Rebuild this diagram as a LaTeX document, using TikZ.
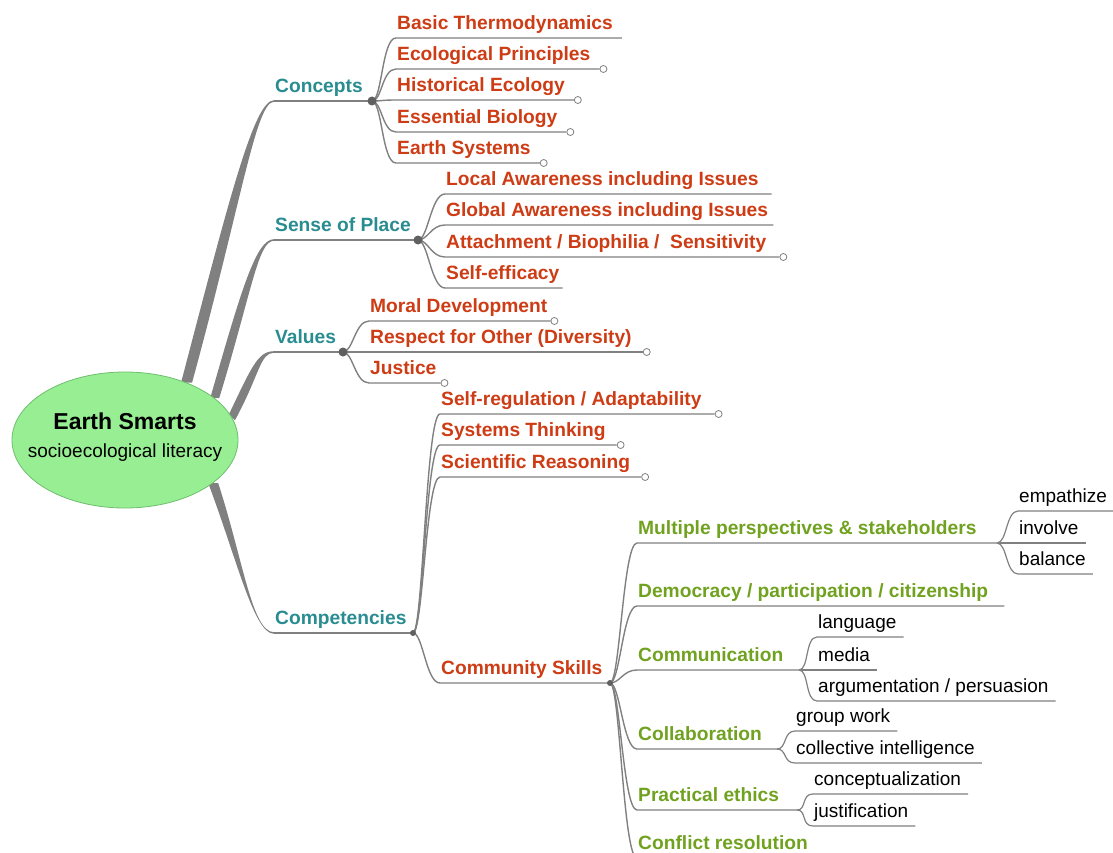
\documentclass[tikz,border=0pt]{standalone}
\usepackage{fontspec}
\setmainfont{Liberation Sans}
\usetikzlibrary{positioning, shapes.geometric, calc, backgrounds}
\definecolor{mmteal}{RGB}{40,140,145}
\definecolor{mmred}{RGB}{205,60,20}
\definecolor{mmgreen}{RGB}{112,162,32}
\definecolor{mmgray}{RGB}{128,128,128}
\definecolor{hubfill}{RGB}{152,238,146}
\definecolor{hubline}{RGB}{110,190,110}

\begin{document}
\begin{tikzpicture}[
    x=1pt, y=-1pt,
    hub/.style={ellipse, draw=hubline, fill=hubfill, line width=0.8pt, minimum width=226pt, minimum height=136pt, inner sep=0pt},
    hubtext/.style={align=center, font=\fontsize{19}{28}\selectfont},
    txt/.style={anchor=south west, inner xsep=1pt, inner ysep=8.5pt, text depth=0pt},
    main/.style={txt, text=mmteal, font=\fontsize{19.2}{22}\selectfont\bfseries},
    sub/.style={txt, text=mmred, font=\fontsize{19.2}{22}\selectfont\bfseries},
    skill/.style={txt, text=mmgreen, font=\fontsize{19.2}{22}\selectfont\bfseries},
    item/.style={txt, text=black, font=\fontsize{19}{22}\selectfont},
    link/.style={draw=mmgray, line width=1.4pt},
    twig/.style={draw=mmgray, line width=1.2pt},
    trunk/.style={fill=mmgray},
    knot/.style={fill=mmgray!75!black},
    tip/.style={circle, draw=mmgray, fill=white, line width=0.8pt, inner sep=0pt, minimum size=7pt, anchor=west}
]
\useasboundingbox (0,0) rectangle (1113,853);

% centre
\node[hub] (hub) at (125,440) {};
\node[hubtext] (hubname) at (125,437) {{\fontsize{23}{28}\selectfont\bfseries Earth Smarts}\\socioecological literacy};

% first level
\node[main] (con) at (274,101) {Concepts};
\node[main] (sop) at (274,240) {Sense of Place};
\node[main] (val) at (274,352) {Values};
\node[main] (com) at (274,633) {Competencies};
\coordinate (conJ) at (372,101);
\coordinate (sopJ) at (418,240);
\coordinate (valJ) at (343,352);
\coordinate (comJ) at (413,633);

\begin{scope}[on background layer]
    \fill[trunk] ([xshift=-5.5pt]hub.43) .. controls +(48,-183) and +(-20,0) .. ([yshift=0.8pt]con.south west)
        -- ([yshift=-0.8pt]con.south west) .. controls +(-18,0) and +(50,-183) .. ([xshift=5.5pt]hub.43) -- cycle;
    \fill[trunk] ([xshift=-4.5pt]hub.25) .. controls +(31,-108) and +(-18,0) .. ([yshift=0.8pt]sop.south west)
        -- ([yshift=-0.8pt]sop.south west) .. controls +(-16,0) and +(33,-108) .. ([xshift=4.5pt]hub.25) -- cycle;
    \fill[trunk] ([xshift=-3pt,yshift=3pt]hub.12) .. controls +(23,-48) and +(-16,0) .. ([yshift=0.8pt]val.south west)
        -- ([yshift=-0.8pt]val.south west) .. controls +(-14,0) and +(25,-46) .. ([xshift=3pt,yshift=-3pt]hub.12) -- cycle;
    \fill[trunk] ([xshift=-5pt]hub.-26) .. controls +(29,77) and +(-20,0) .. ([yshift=-0.8pt]com.south west)
        -- ([yshift=0.8pt]com.south west) .. controls +(-22,0) and +(25,77) .. ([xshift=5pt]hub.-26) -- cycle;
\end{scope}

\draw[link] (con.south west) -- (conJ);
\draw[link] (sop.south west) -- (sopJ);
\draw[link] (val.south west) -- (valJ);
\draw[link] (com.south west) -- (comJ);

% Concepts
\node[sub] (bt) at (396,38) {Basic Thermodynamics};
\node[sub] (ep) at (396,69) {Ecological Principles};
\node[sub] (he) at (396,100) {Historical Ecology};
\node[sub] (eb) at (396,132) {Essential Biology};
\node[sub] (es) at (396,163) {Earth Systems};
\draw[link] (conJ) .. controls +(10,0) and +(-14,0) .. (bt.south west) -- ([xshift=8pt]bt.south east);
\draw[link] (conJ) .. controls +(10,0) and +(-14,0) .. (ep.south west) -- ([xshift=8pt]ep.south east) node[tip] (epT) {};
\draw[link] (conJ) .. controls +(10,0) and +(-14,0) .. (he.south west) -- ([xshift=8pt]he.south east) node[tip] (heT) {};
\draw[link] (conJ) .. controls +(10,0) and +(-14,0) .. (eb.south west) -- ([xshift=8pt]eb.south east) node[tip] (ebT) {};
\draw[link] (conJ) .. controls +(10,0) and +(-14,0) .. (es.south west) -- ([xshift=8pt]es.south east) node[tip] (esT) {};
\fill[knot] (conJ) circle (4.5pt);

% Sense of Place
\node[sub] (la) at (445,194) {Local Awareness including Issues};
\node[sub] (ga) at (445,225) {Global Awareness including Issues};
\node[sub] (ab) at (445,257) {Attachment / Biophilia /\ \ Sensitivity};
\node[sub] (se) at (445,288) {Self-efficacy};
\draw[link] (sopJ) .. controls +(10,0) and +(-14,0) .. (la.south west) -- ([xshift=12pt]la.south east);
\draw[link] (sopJ) .. controls +(10,0) and +(-14,0) .. (ga.south west) -- ([xshift=4pt]ga.south east);
\draw[link] (sopJ) .. controls +(10,0) and +(-14,0) .. (ab.south west) -- ([xshift=12pt]ab.south east) node[tip] (abT) {};
\draw[link] (sopJ) .. controls +(10,0) and +(-14,0) .. (se.south west) -- ([xshift=2pt]se.south east);
\fill[knot] (sopJ) circle (4.5pt);

% Values
\node[sub] (md) at (369,321) {Moral Development};
\node[sub] (ro) at (369,352) {Respect for Other (Diversity)};
\node[sub] (ju) at (369,383) {Justice};
\draw[link] (valJ) .. controls +(10,0) and +(-14,0) .. (md.south west) -- ([xshift=2pt]md.south east) node[tip] (mdT) {};
\draw[link] (valJ) .. controls +(10,0) and +(-14,0) .. (ro.south west) -- ([xshift=10pt]ro.south east) node[tip] (roT) {};
\draw[link] (valJ) .. controls +(10,0) and +(-14,0) .. (ju.south west) -- ([xshift=3pt]ju.south east) node[tip] (juT) {};
\fill[knot] (valJ) circle (4.5pt);

% Competencies
\node[sub] (sr) at (440,414) {Self-regulation / Adaptability};
\node[sub] (st) at (440,445) {Systems Thinking};
\node[sub] (sc) at (440,477) {Scientific Reasoning};
\node[sub] (cs) at (440,683) {Community Skills};
\coordinate (csJ) at (610,683);
\draw[link] (comJ) .. controls +(10,0) and +(-14,0) .. (sr.south west) -- ([xshift=12pt]sr.south east) node[tip] (srT) {};
\draw[link] (comJ) .. controls +(10,0) and +(-14,0) .. (st.south west) -- ([xshift=10pt]st.south east) node[tip] (stT) {};
\draw[link] (comJ) .. controls +(10,0) and +(-14,0) .. (sc.south west) -- ([xshift=10pt]sc.south east) node[tip] (scT) {};
\draw[link] (comJ) .. controls +(10,0) and +(-14,0) .. (cs.south west) -- (csJ);
\fill[knot] (comJ) circle (3pt);

% Community Skills
\node[skill] (mp) at (637,543) {Multiple perspectives \& stakeholders};
\node[skill] (dp) at (637,606) {Democracy / participation / citizenship};
\node[skill] (cm) at (637,670) {Communication};
\node[skill] (cb) at (637,749) {Collaboration};
\node[skill] (pe) at (637,810) {Practical ethics};
\node[skill] (cr) at (637,858) {Conflict resolution};
\coordinate (mpJ) at (997,543);
\coordinate (cmJ) at (799,670);
\coordinate (cbJ) at (777,749);
\coordinate (peJ) at (797,810);
\draw[link] (csJ) .. controls +(10,0) and +(-14,0) .. (mp.south west) -- (mpJ);
\draw[link] (csJ) .. controls +(10,0) and +(-14,0) .. (dp.south west) -- ([xshift=15pt]dp.south east);
\draw[link] (csJ) .. controls +(10,0) and +(-14,0) .. (cm.south west) -- (cmJ);
\draw[link] (csJ) .. controls +(10,0) and +(-14,0) .. (cb.south west) -- (cbJ);
\draw[link] (csJ) .. controls +(10,0) and +(-14,0) .. (pe.south west) -- (peJ);
\draw[link] (csJ) .. controls +(10,0) and +(-14,0) .. (cr.south west) -- ([xshift=8pt]cr.south east);
\fill[knot] (csJ) circle (3pt);

% details
\node[item] (emp) at (1018,511) {empathize};
\node[item] (inv) at (1018,543) {involve};
\node[item] (bal) at (1018,574) {balance};
\node[item] (lan) at (817,637) {language};
\node[item] (med) at (817,670) {media};
\node[item] (arg) at (817,701) {argumentation / persuasion};
\node[item] (gw) at (795,731) {group work};
\node[item] (ci) at (795,763) {collective intelligence};
\node[item] (cz) at (813,794) {conceptualization};
\node[item] (jf) at (813,826) {justification};
\draw[twig] (mpJ) .. controls +(10,0) and +(-12,0) .. (emp.south west) -- ([xshift=6pt]emp.south east);
\draw[twig] (mpJ) .. controls +(10,0) and +(-12,0) .. (inv.south west) -- ([xshift=6pt]inv.south east);
\draw[twig] (mpJ) .. controls +(10,0) and +(-12,0) .. (bal.south west) -- ([xshift=6pt]bal.south east);
\draw[twig] (cmJ) .. controls +(10,0) and +(-12,0) .. (lan.south west) -- ([xshift=6pt]lan.south east);
\draw[twig] (cmJ) .. controls +(10,0) and +(-12,0) .. (med.south west) -- ([xshift=6pt]med.south east);
\draw[twig] (cmJ) .. controls +(10,0) and +(-12,0) .. (arg.south west) -- ([xshift=6pt]arg.south east);
\draw[twig] (cbJ) .. controls +(10,0) and +(-12,0) .. (gw.south west) -- ([xshift=6pt]gw.south east);
\draw[twig] (cbJ) .. controls +(10,0) and +(-12,0) .. (ci.south west) -- ([xshift=6pt]ci.south east);
\draw[twig] (peJ) .. controls +(10,0) and +(-12,0) .. (cz.south west) -- ([xshift=6pt]cz.south east);
\draw[twig] (peJ) .. controls +(10,0) and +(-12,0) .. (jf.south west) -- ([xshift=6pt]jf.south east);
\end{tikzpicture}
\end{document}
